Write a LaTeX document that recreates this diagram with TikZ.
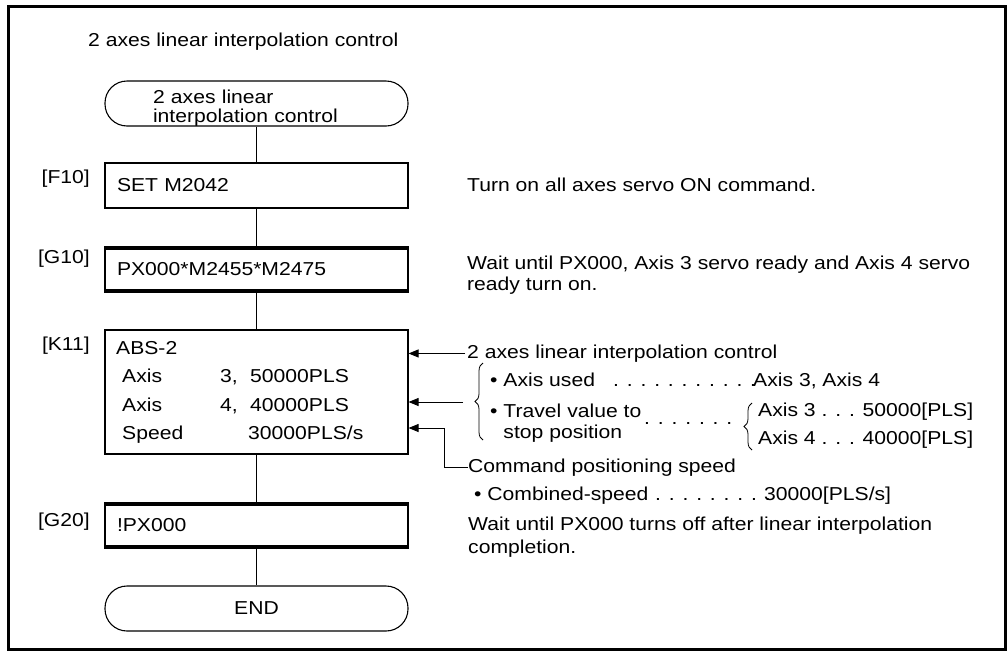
\documentclass[tikz,border=0pt]{standalone}
\usepackage{fontspec}
\setmainfont{Liberation Sans}[FakeStretch=1.13]
\usetikzlibrary{positioning,arrows.meta,decorations.pathreplacing}
\newcommand{\dfont}{\fontsize{18.7pt}{21pt}\selectfont}
\tikzset{
  prog/.style   ={rectangle, draw=black, line width=1.1pt, minimum width=303pt,
                  minimum height=45pt, inner xsep=12pt, inner ysep=0pt,
                  text width=279pt, align=left, font=\dfont},
  term/.style   ={prog, rounded corners=22pt, inner xsep=48pt, text width=207pt,
                  font=\fontsize{18.7pt}{16.7pt}\selectfont},
  endterm/.style={prog, rounded corners=22pt, align=center},
  bar/.style    ={line width=4pt},
  tag/.style    ={font=\dfont, inner sep=0pt, anchor=base east},
  note/.style   ={font=\dfont, inner sep=0pt, anchor=base west, align=left},
  notetop/.style={note, anchor=north west},
  link/.style   ={draw=black, line width=0.9pt},
  arr/.style    ={-{Triangle[length=10pt,width=8pt]}, line width=0.9pt},
  brc/.style    ={decorate, decoration={brace, amplitude=8pt}, line width=0.8pt},
}

\begin{document}
\begin{tikzpicture}[x=1pt, y=-1pt]
  \useasboundingbox (0,0) rectangle (1008,651);
  % frame
  \draw[line width=3.3pt] (8.5,6.5) rectangle (1005.5,649.5);

  % title
  \node[note] (title) at (88,46.7) {2 axes linear interpolation control};

  % program steps
  \node[term] (start) at (256.5,103.5)
       {\smash{\begin{tabular}[t]{@{}l@{}}2 axes linear\\interpolation control\end{tabular}}};
  \node[prog] (f10) at (256.5,185.5) {SET M2042};
  \node[prog] (g10) at (256.5,269.5) {PX000*M2455*M2475};
  \node[prog, minimum height=124pt] (k11) at (256.5,392) {};
  \node[prog] (g20) at (256.5,525.5) {!PX000};
  \node[endterm] (end) at (256.5,608.5) {END};

  % step numbers
  \node[tag] (tf10) at (90,183.3) {[F10]};
  \node[tag] (tg10) at (90,263.3) {[G10]};
  \node[tag] (tk11) at (90,350) {[K11]};
  \node[tag] (tg20) at (90,526.7) {[G20]};

  % servo program rows
  \node[note] (abs) at (116,354) {ABS-2};
  \node[note] (ax3) at (122,382.5) {\makebox[98pt][l]{Axis}\makebox[30pt][l]{3,}50000PLS};
  \node[note] (ax4) at (122,411) {\makebox[98pt][l]{Axis}\makebox[30pt][l]{4,}40000PLS};
  \node[note] (spd) at (122,439.5) {\makebox[126pt][l]{Speed}30000PLS/s};

  % wait bars
  \foreach \n in {g10,g20} {
    \draw[bar] ([yshift=-2pt]\n.north west) -- ([yshift=-2pt]\n.north east);
    \draw[bar] ([yshift=2pt]\n.south west) -- ([yshift=2pt]\n.south east);
  }

  % flow lines
  \foreach \a/\b in {start/f10, f10/g10, g10/k11, k11/g20, g20/end}
    \draw[link] (\a) -- (\b);

  % comments
  \node[note] (n1) at (467,191.7) {Turn on all axes servo ON command.};
  \node[notetop] (n2) at (467,255.9) {Wait until PX000, Axis 3 servo ready and Axis 4 servo\\ready turn on.};
  \node[note] (lin) at (467,358.3) {2 axes linear interpolation control};
  \node[note] (used) at (490,386) {\makebox[123pt][l]{• Axis used}\makebox[140pt][l]{. . . . . . . . . . .}Axis 3, Axis 4};
  \node[notetop] (trav) at (490,403.3) {• Travel value to\\\hphantom{• }stop position};
  \node[note] (trdots) at (644,424) {. . . . . . .};
  \node[notetop] (axv) at (758,402.6) {Axis 3 . . . 50000[PLS]\\[7pt]Axis 4 . . . 40000[PLS]};
  \node[note] (cmd) at (468,472.7) {Command positioning speed};
  \node[note] (comb) at (474,500.7) {\makebox[181pt][l]{• Combined-speed}\makebox[109pt][l]{. . . . . . . . .}30000[PLS/s]};
  \node[notetop] (n4) at (468,516.6) {Wait until PX000 turns off after linear interpolation\\[2.3pt]completion.};

  % braces
  \draw[brc] (483,440) -- (483,363);
  \draw[brc] (752,450) -- (752,403);
  \coordinate (brtip) at (463,402);
  \coordinate (spdin) at ([yshift=-36pt]k11.east);

  % arrows into K11
  \draw[arr, shorten <=2pt] (lin.west) -- (k11.east |- lin.west);
  \draw[arr] (brtip) -- (k11.east |- brtip);
  \draw[arr] (cmd.west) -- ++(-24,0) |- (spdin);
\end{tikzpicture}
\end{document}
